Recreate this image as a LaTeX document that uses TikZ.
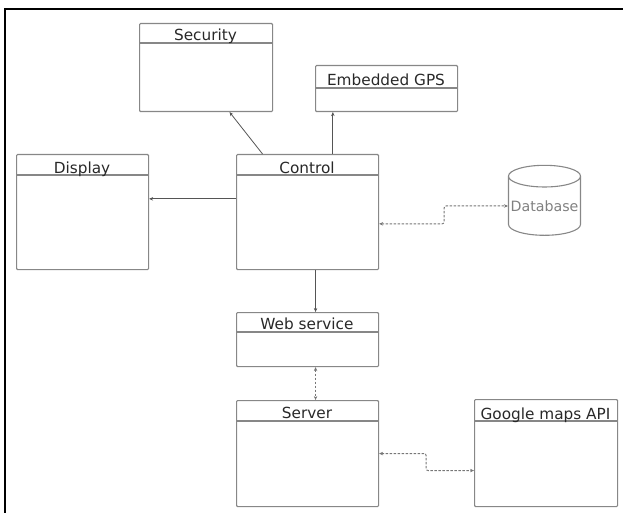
\documentclass[tikz,border=0pt]{standalone}
\usepackage{fontspec}
\setmainfont{DejaVu Sans}
\usetikzlibrary{arrows.meta,shapes.geometric}

\definecolor{boxgray}{RGB}{135,135,135}
\definecolor{linkgray}{RGB}{85,85,85}
\definecolor{textgray}{RGB}{40,40,40}

\tikzset{
	box/.style={draw=boxgray,line width=1.1pt,rounded corners=1pt,inner sep=0pt,anchor=north west},
	headline/.style={draw=boxgray,line width=1.1pt},
	title/.style={anchor=base,inner sep=0pt,text=textgray,font=\fontsize{15.3}{18}\selectfont},
	link/.style={draw=linkgray,line width=0.8pt,-{Stealth[length=4pt,width=3.5pt]}},
	dotlink/.style={draw=linkgray!80,line width=1pt,dash pattern=on 2.5pt off 1.5pt,rounded corners=2pt,
		{Stealth[length=4pt,width=3.5pt]}-{Stealth[length=4pt,width=3.5pt]}}
}

\begin{document}
\begin{tikzpicture}[x=1pt,y=-1pt]

	\useasboundingbox (0,0) rectangle (623,513);
	\draw[line width=1.6pt] (5,513)--(5,9)--(623,9);

	% boxes
	\node[box,minimum width=133pt,minimum height=88pt] (security) at (139,23) {};
	\node[box,minimum width=142pt,minimum height=46pt] (gps) at (315,65) {};
	\node[box,minimum width=132pt,minimum height=115pt] (display) at (16,154) {};
	\node[box,minimum width=142pt,minimum height=115pt] (control) at (236,154) {};
	\node[box,minimum width=142pt,minimum height=54pt] (web) at (236,312) {};
	\node[box,minimum width=142pt,minimum height=106pt] (server) at (236,400) {};
	\node[box,minimum width=143pt,minimum height=107pt] (google) at (474,399) {};

	\draw[headline] (security.north west) ++(0,20) -- ++(133,0);
	\draw[headline] (gps.north west) ++(0,23) -- ++(142,0);
	\draw[headline] (display.north west) ++(0,21) -- ++(132,0);
	\draw[headline] (control.north west) ++(0,21) -- ++(142,0);
	\draw[headline] (web.north west) ++(0,20) -- ++(142,0);
	\draw[headline] (server.north west) ++(0,21) -- ++(142,0);
	\draw[headline] (google.north west) ++(0,22) -- ++(143,0);

	\node[title] (securityname) at (205.5,41) {Security};
	\node[title] (gpsname) at (386,86) {Embedded GPS};
	\node[title] (displayname) at (82,173.5) {Display};
	\node[title] (controlname) at (307,173.5) {Control};
	\node[title] (webname) at (307,329) {Web service};
	\node[title] (servername) at (307,418) {Server};
	\node[title] (googlename) at (545.5,419.5) {Google maps API};

	\node[cylinder,shape border rotate=90,aspect=0.32,draw=boxgray,line width=1.1pt,
		minimum width=72pt,minimum height=70pt,inner sep=0pt,text=gray,
		font=\fontsize{14.2}{17}\selectfont] (db) at (544.5,206) {Database};

	% connectors
	\draw[link] ([xshift=-45pt]control.north) -- ([xshift=23.5pt]security.south);
	\draw[link] ([xshift=25.3pt]control.north) -- ([xshift=-53.7pt]gps.south);
	\draw[link] ([yshift=13.2pt]control.west) -- ([yshift=13.2pt]display.east);
	\draw[link] ([xshift=8pt]control.south) -- ([xshift=8pt]web.north);
	\draw[dotlink] ([xshift=8pt]web.south) -- ([xshift=8pt]server.north);
	\draw[dotlink] ([yshift=-11.8pt]control.east) -- ++(65,0) |- (db.west);
	\draw[dotlink] (server.east) -- ++(47,0) |- ([yshift=-17.5pt]google.west);

\end{tikzpicture}
\end{document}
